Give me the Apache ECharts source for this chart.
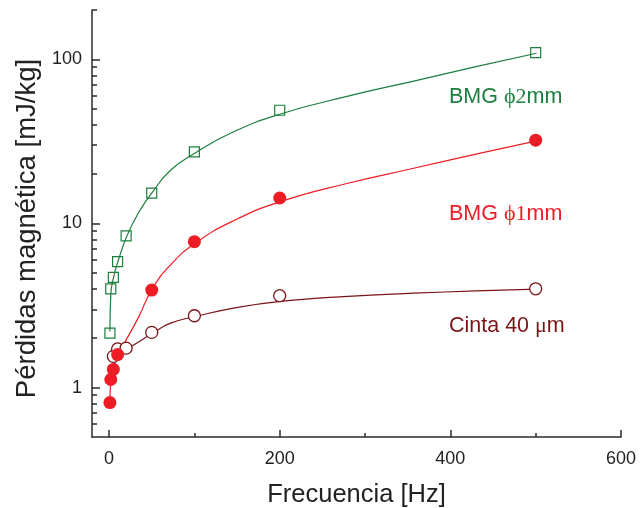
<!DOCTYPE html>
<html><head><meta charset="utf-8">
<script src="https://cdn.jsdelivr.net/npm/echarts@6/dist/echarts.min.js"></script>
<style>html,body{margin:0;padding:0;background:#fff}#c{width:641px;height:508px}</style>
</head><body><div id="c"></div>
<script>
// Tick labels / tick positions
const freqTicksMajor = [0, 200, 400, 600];
const freqTicksMinor = [100, 300, 500];
const lossTicksMajor = [1, 10, 100];
const lossTicksMinor = [0.6, 0.7, 0.8, 0.9, 2, 3, 4, 5, 6, 7, 8, 9, 20, 30, 40, 50, 60, 70, 80, 90, 200];

// Measured points: BMG phi 2mm (open squares)
const freqBMG2 = [1, 2, 5, 10, 20, 50, 100, 200, 500];
const lossBMG2 = [2.15, 4.0, 4.7, 5.85, 8.4, 15.3, 27.3, 49, 110];
// Measured points: BMG phi 1mm (filled circles)
const freqBMG1 = [1, 2, 5, 10, 50, 100, 200, 500];
const lossBMG1 = [0.81, 1.12, 1.29, 1.59, 3.93, 7.75, 14.3, 32.2];
// Measured points: Cinta 40 um (open circles)
const freqCinta = [5, 10, 20, 50, 100, 200, 500];
const lossCinta = [1.55, 1.72, 1.74, 2.17, 2.74, 3.63, 4.0];

// Fitted curves
const fitFreqBMG2 = [1, 2, 5.5, 11, 21, 34, 50, 72, 101, 146, 201, 280, 357, 430, 501];
const fitLossBMG2 = [2.2, 3.7, 4.75, 6.0, 8.43, 11.5, 15.3, 21.1, 26.9, 36.2, 46.5, 59.7, 73.8, 90.3, 109];
const fitFreqBMG1 = [1, 2, 5, 11, 34, 50, 72, 101, 146, 201, 280, 357, 430, 501];
const fitLossBMG1 = [0.81, 1.1, 1.3, 1.59, 2.65, 3.94, 5.59, 7.58, 10.4, 13.6, 17.6, 21.7, 26.5, 31.9];
const fitFreqCinta = [5, 10, 21, 50, 72, 101, 146, 201, 280, 357, 430, 501];
const fitLossCinta = [1.55, 1.66, 1.73, 2.13, 2.47, 2.71, 3.05, 3.35, 3.6, 3.76, 3.88, 3.98];

const labels = ['BMG \u03D52mm', 'BMG \u03D51mm', 'Cinta 40 \u03BCm'];

const GREEN = '#1b7f3e', RED = '#ee1c24', BROWN = '#7a1416';
const AX = '#2b2b2b';
const SANS = '"Liberation Sans", Arial, sans-serif';
const SERIF = '"Liberation Serif", "DejaVu Serif", serif';

const zip = (xs, ys) => xs.map((x, i) => [x, ys[i]]);

const chart = echarts.init(document.getElementById('c'), null, {renderer: 'canvas'});
const lineStyleAx = {color: AX, width: 1.5};

function fitSeries(name, xs, ys, color, z) {
  return {type: 'line', name: name, data: zip(xs, ys), smooth: 0.5,
          showSymbol: false, symbol: 'none', lineStyle: {color: color, width: 1.2}, z: z, silent: true};
}

const option = {
  animation: false,
  backgroundColor: '#fff',
  grid: {left: 92, top: 10, right: 20, bottom: 71, outerBoundsMode: 'none', containLabel: false},
  xAxis: [
    {
      type: 'value', min: -20, max: 600,
      axisLine: {onZero: false, lineStyle: lineStyleAx},
      axisTick: {inside: true, length: 7, customValues: freqTicksMajor, lineStyle: lineStyleAx},
      axisLabel: {customValues: freqTicksMajor, fontSize: 18, color: '#222', margin: 13, fontFamily: SANS},
      splitLine: {show: false},
      name: 'Frecuencia [Hz]', nameLocation: 'middle', nameGap: 45,
      nameTextStyle: {fontSize: 25.5, color: '#222', fontFamily: SANS}
    },
    {
      type: 'value', min: -20, max: 600, position: 'bottom',
      axisLine: {show: false, onZero: false},
      axisTick: {inside: true, length: 4, customValues: freqTicksMinor, lineStyle: lineStyleAx},
      axisLabel: {show: false}, splitLine: {show: false}
    }
  ],
  yAxis: [
    {
      type: 'log', logBase: 10, min: 0.5, max: 200,
      axisLine: {show: true, onZero: false, lineStyle: lineStyleAx},
      axisTick: {inside: true, length: 8, customValues: lossTicksMajor, lineStyle: lineStyleAx},
      axisLabel: {customValues: lossTicksMajor, fontSize: 18, color: '#222', margin: 10, fontFamily: SANS,
                  formatter: v => String(v)},
      splitLine: {show: false},
      name: 'Pérdidas magnética [mJ/kg]', nameLocation: 'middle', nameGap: 49,
      nameTextStyle: {fontSize: 27.5, color: '#222', fontFamily: SANS, padding: [0, 10, 0, 0]}
    },
    {
      type: 'log', logBase: 10, min: 0.5, max: 200, position: 'left',
      axisLine: {show: false, onZero: false},
      axisTick: {inside: true, length: 5, customValues: lossTicksMinor, lineStyle: lineStyleAx},
      axisLabel: {show: false}, splitLine: {show: false}
    }
  ],
  series: [
    fitSeries('fit ' + labels[2], fitFreqCinta, fitLossCinta, BROWN, 2),
    fitSeries('fit ' + labels[1], fitFreqBMG1, fitLossBMG1, RED, 2),
    fitSeries('fit ' + labels[0], fitFreqBMG2, fitLossBMG2, GREEN, 2),
    {
      type: 'scatter', name: labels[2], data: zip(freqCinta, lossCinta),
      symbol: 'circle', symbolSize: 12,
      itemStyle: {color: '#fff', borderColor: BROWN, borderWidth: 1.3, opacity: 1}, z: 3
    },
    {
      type: 'scatter', name: labels[1], data: zip(freqBMG1, lossBMG1),
      symbol: 'circle', symbolSize: 13,
      itemStyle: {color: RED, borderWidth: 0, opacity: 1}, z: 4
    },
    {
      type: 'scatter', name: labels[0], data: zip(freqBMG2, lossBMG2),
      symbol: 'rect', symbolSize: 10,
      itemStyle: {color: 'rgba(255,255,255,0)', borderColor: GREEN, borderWidth: 1.2, opacity: 1}, z: 5
    }
  ],
  graphic: [
    {type: 'text', left: 449, top: 86, style: {
      text: '{a|BMG }{b|\u03D52}{a|mm}',
      rich: {a: {fontSize: 21.5, fontFamily: SANS, fill: GREEN}, b: {fontSize: 22, fontFamily: SERIF, fill: GREEN}}
    }},
    {type: 'text', left: 449, top: 203, style: {
      text: '{a|BMG }{b|\u03D51}{a|mm}',
      rich: {a: {fontSize: 21.5, fontFamily: SANS, fill: RED}, b: {fontSize: 22, fontFamily: SERIF, fill: RED}}
    }},
    {type: 'text', left: 449, top: 315, style: {
      text: '{a|Cinta 40 }{b|\u03BC}{a|m}',
      rich: {a: {fontSize: 21.5, fontFamily: SANS, fill: BROWN}, b: {fontSize: 22, fontFamily: SERIF, fill: BROWN}}
    }}
  ]
};
chart.setOption(option);
</script>
</body></html>
